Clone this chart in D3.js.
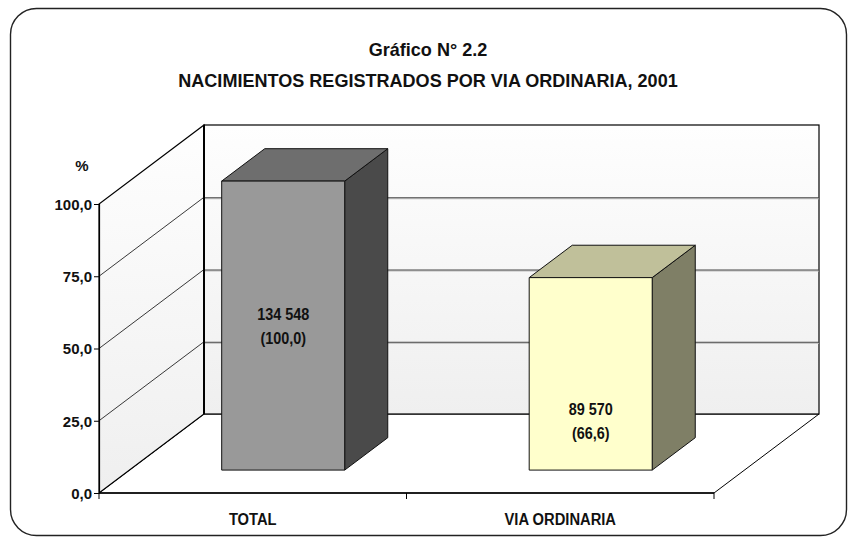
<!DOCTYPE html>
<html>
<head>
<meta charset="utf-8">
<script src="https://cdn.jsdelivr.net/npm/d3@7"></script>
<style>
  body { margin: 0; background: #fff; }
  text { font-family: "Liberation Sans", Arial, sans-serif; font-weight: bold; fill: #111; }
</style>
</head>
<body>
<div id="chart"></div>
<script>
var categories = ["TOTAL", "VIA ORDINARIA"]
var percents = [100.0, 66.6]
var counts = ["134 548", "89 570"]
var pctLabels = ["(100,0)", "(66,6)"]
var labelAt = [50, 17]   // where the value label sits, in % units
var yTicks = [0, 25, 50, 75, 100]
var titleLines = ["Gráfico N° 2.2", "NACIMIENTOS REGISTRADOS POR VIA ORDINARIA, 2001"]

var W = 857, H = 544
var floorY = 493, left = 99, right = 714
var depth = {x: 105, y: -79}
var barFront = 0.29, barBack = 0.70

var svg = d3.select("#chart").append("svg")
  .attr("width", W)
  .attr("height", H)

// squeeze text horizontally, the original uses a narrow face
function narrow(sel, f){
  sel.each(function(){
    var len = this.getComputedTextLength()
    d3.select(this).attr("textLength", len * f).attr("lengthAdjust", "spacingAndGlyphs")
  })
}

var defs = svg.append("defs")
var grad = defs.append("linearGradient")
  .attr("id", "wallGrad")
  .attr("x1", 0).attr("y1", 0).attr("x2", 0).attr("y2", 1)
grad.append("stop").attr("offset", "0%").attr("stop-color", "#fefefe")
grad.append("stop").attr("offset", "100%").attr("stop-color", "#efefef")

// outer frame
svg.append("rect")
  .attr("x", 10.5).attr("y", 8.5)
  .attr("width", 836).attr("height", 527)
  .attr("rx", 26).attr("ry", 26)
  .style("fill", "#fff")
  .style("stroke", "#222")
  .style("stroke-width", 1.4)

svg.selectAll(".title")
  .data(titleLines)
  .enter().append("text")
    .attr("class", "title")
    .attr("x", 428)
    .attr("y", function(d, i){ return 56 + i * 31 })
    .style("text-anchor", "middle")
    .style("font-size", "19px")
    .text(function(d){ return d })
    .call(narrow, 0.95)

var y = d3.scaleLinear().domain([0, 100]).range([floorY, floorY - 289])
var x = d3.scaleBand().domain(categories).range([left, right])

function P(px, py, f){ return [px + depth.x * f, py + depth.y * f] }
function poly(pts){ return "M" + pts.map(function(p){ return p.join(",") }).join("L") + "Z" }

var yTop = y(100)

// floor
svg.append("path")
  .attr("d", poly([[left, floorY], [right, floorY], P(right, floorY, 1), P(left, floorY, 1)]))
  .style("fill", "#fff")
  .style("stroke", "#000")
  .style("stroke-width", 1)

// left wall
svg.append("path")
  .attr("d", poly([[left, floorY], P(left, floorY, 1), P(left, yTop, 1), [left, yTop]]))
  .style("fill", "url(#wallGrad)")
  .style("stroke", "#000")
  .style("stroke-width", 1.2)

// back wall
var bw = P(left, 0, 1)[0], bwr = P(right, 0, 1)[0]
svg.append("rect")
  .attr("x", bw).attr("y", P(0, yTop, 1)[1])
  .attr("width", bwr - bw).attr("height", y(0) - yTop)
  .style("fill", "url(#wallGrad)")
  .style("stroke", "#000")
  .style("stroke-width", 1.2)

// gridlines on back wall + left wall
var grid = svg.append("g")
grid.selectAll(".gshadow")
  .data(yTicks.slice(1, -1))
  .enter().append("line")
    .attr("x1", bw).attr("x2", bwr)
    .attr("y1", function(d){ return P(0, y(d), 1)[1] + 1.5 })
    .attr("y2", function(d){ return P(0, y(d), 1)[1] + 1.5 })
    .style("stroke", "#bbb")
    .style("stroke-width", 1)
grid.selectAll(".gback")
  .data(yTicks.slice(1, -1))
  .enter().append("line")
    .attr("x1", bw).attr("x2", bwr)
    .attr("y1", function(d){ return P(0, y(d), 1)[1] + 0.5 })
    .attr("y2", function(d){ return P(0, y(d), 1)[1] + 0.5 })
    .style("stroke", "#444")
    .style("stroke-width", 1)
grid.selectAll(".gleft")
  .data(yTicks.slice(1, -1))
  .enter().append("line")
    .attr("x1", left).attr("y1", function(d){ return y(d) })
    .attr("x2", bw).attr("y2", function(d){ return P(0, y(d), 1)[1] })
    .style("stroke", "#222")
    .style("stroke-width", 0.9)

svg.append("line")
  .attr("x1", bw).attr("x2", bw)
  .attr("y1", P(0, yTop, 1)[1]).attr("y2", P(0, y(0), 1)[1])
  .style("stroke", "#000").style("stroke-width", 2)

// y axis
svg.append("g")
  .attr("class", "y axis")
  .attr("transform", "translate(" + left + ",0)")
  .call(d3.axisLeft(y).tickValues(yTicks).tickSize(5).tickPadding(2)
    .tickFormat(function(d){ return d3.format(".1f")(d).replace(".", ",") }))
  .call(function(g){
    g.select(".domain").style("stroke", "#000").style("stroke-width", 1.2)
    g.selectAll(".tick line").style("stroke", "#000")
    g.selectAll("text").style("font-size", "15px").style("fill", "#111")
      .attr("dy", "0.36em")
  })

svg.append("text")
  .attr("x", 82).attr("y", 171)
  .style("text-anchor", "middle")
  .style("font-size", "15px")
  .text("%")

// x axis
svg.append("line")
  .attr("x1", left).attr("x2", right)
  .attr("y1", floorY).attr("y2", floorY)
  .style("stroke", "#000").style("stroke-width", 1.4)
svg.selectAll(".xtick")
  .data([left, left + x.step(), right])
  .enter().append("line")
    .attr("x1", function(d){ return d }).attr("x2", function(d){ return d })
    .attr("y1", floorY).attr("y2", floorY + 6)
    .style("stroke", "#000")
svg.selectAll(".xlabel")
  .data(categories)
  .enter().append("text")
    .attr("x", function(d){ return x(d) + x.bandwidth() / 2 })
    .attr("y", 525)
    .style("text-anchor", "middle")
    .style("font-size", "16px")
    .text(function(d){ return d })
    .call(narrow, 0.92)

// bars
var colors = [
  {front: "#999999", top: "#6e6e6e", side: "#4a4a4a"},
  {front: "#ffffcc", top: "#c0c09a", side: "#7f7f66"}
]
var bw2 = x.bandwidth() / 2.5

categories.forEach(function(c, i){
  var cx = x(c) + x.bandwidth() / 2
  var x0 = cx - bw2 / 2, x1 = cx + bw2 / 2
  var b0 = floorY, t0 = y(percents[i])
  var g = svg.append("g").attr("class", "bar")
  function face(pts, fill){
    g.append("path").attr("d", poly(pts))
      .style("fill", fill).style("stroke", "#111").style("stroke-width", 1)
      .style("stroke-linejoin", "round")
  }
  face([P(x1, b0, barFront), P(x1, b0, barBack), P(x1, t0, barBack), P(x1, t0, barFront)], colors[i].side)
  face([P(x0, t0, barFront), P(x1, t0, barFront), P(x1, t0, barBack), P(x0, t0, barBack)], colors[i].top)
  face([P(x0, b0, barFront), P(x1, b0, barFront), P(x1, t0, barFront), P(x0, t0, barFront)], colors[i].front)

  var lc = P(cx, y(labelAt[i]), barFront)
  g.append("text")
    .attr("x", lc[0]).attr("y", lc[1] - 6)
    .style("text-anchor", "middle").style("font-size", "16px")
    .text(counts[i])
    .call(narrow, 0.9)
  g.append("text")
    .attr("x", lc[0]).attr("y", lc[1] + 18)
    .style("text-anchor", "middle").style("font-size", "16px")
    .text(pctLabels[i])
    .call(narrow, 0.9)
})
</script>
</body>
</html>
